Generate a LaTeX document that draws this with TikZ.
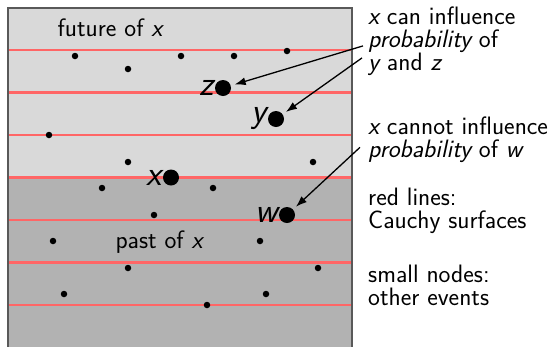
\documentclass[tikz,border=0pt]{standalone}
\usepackage{fontspec}
\usetikzlibrary{arrows.meta,calc}
\definecolor{lightbg}{gray}{0.85}
\definecolor{darkbg}{gray}{0.70}
\definecolor{cauchy}{RGB}{255,102,102}
\definecolor{frameclr}{gray}{0.35}
\tikzset{
 smalldot/.style={circle,fill=black,inner sep=0pt,minimum size=6.5pt},
 bigdot/.style={circle,fill=black,inner sep=0pt,minimum size=16pt},
 biglabel/.style={font=\fontsize{35}{40}\selectfont\sffamily\itshape,inner sep=1pt},
 note/.style={font=\fontsize{25.2}{22.8}\selectfont\sffamily,align=left,inner sep=0pt,anchor=base west},
 region/.style={font=\fontsize{25.2}{22.8}\selectfont\sffamily,inner sep=0pt,anchor=base},
 cline/.style={draw=cauchy,line width=2.7pt},
 influence/.style={-{Latex[length=11pt,width=8pt]},line width=1.3pt,shorten >=4pt}
}
\begin{document}
\begin{tikzpicture}[x=1pt,y=-1pt]
\useasboundingbox (0,0) rectangle (554,346);
\begin{scope}
\clip (0,0) rectangle (554,346);
\fill[lightbg] (8,8) rectangle (352,177.5);
\fill[darkbg] (8,177.5) rectangle (352,350);
\foreach \yy in {50,92.5,135,177.5,220,262.5,305} \draw[cline] (8,\yy) -- (352,\yy);
\draw[frameclr,line width=1.3pt] (8,350) -- (8,8) -- (352,8) -- (352,350);
\end{scope}
% region labels
\node[region] (fut) at (110,36) {future of {\itshape x}};
\node[region] (pst) at (159,248) {past of {\itshape x}};
% small events
\foreach \px/\py [count=\i] in {75/56,128/69,181/56,234/56,287/51,49/135,128/162,313/162,102/188,213/188,154/215,53/241,260/241,128/268,318/268,64/294,266/294,207/305}
  \node[smalldot] (e\i) at (\px,\py) {};
% big events
\node[bigdot,label={[biglabel]left:z}] (z) at (223,88) {};
\node[bigdot,label={[biglabel]left:y}] (y) at (276,119) {};
\node[bigdot,label={[biglabel]left:x}] (x) at (171,177.5) {};
\node[bigdot,label={[biglabel]left:w}] (w) at (287,215) {};
% notes
\node[note] (b1) at (368,70.5) {{\itshape x} can influence\\{\itshape probability} of\\{\itshape y} and {\itshape z}};
\node[note] (b2) at (368,157) {{\itshape x} cannot influence\\{\itshape probability} of {\itshape w}};
\node[note] (b3) at (368,228) {red lines:\\Cauchy surfaces};
\node[note] (b4) at (368,305.5) {small nodes:\\other events};
% arrows
\draw[influence] ($(b1.west)+(-5,4.5)$) -- (z);
\draw[influence] ($(b1.west)+(-6,16.5)$) -- (y);
\draw[influence] ($(b2.west)+(-8,8)$) -- (w);
\end{tikzpicture}
\end{document}
